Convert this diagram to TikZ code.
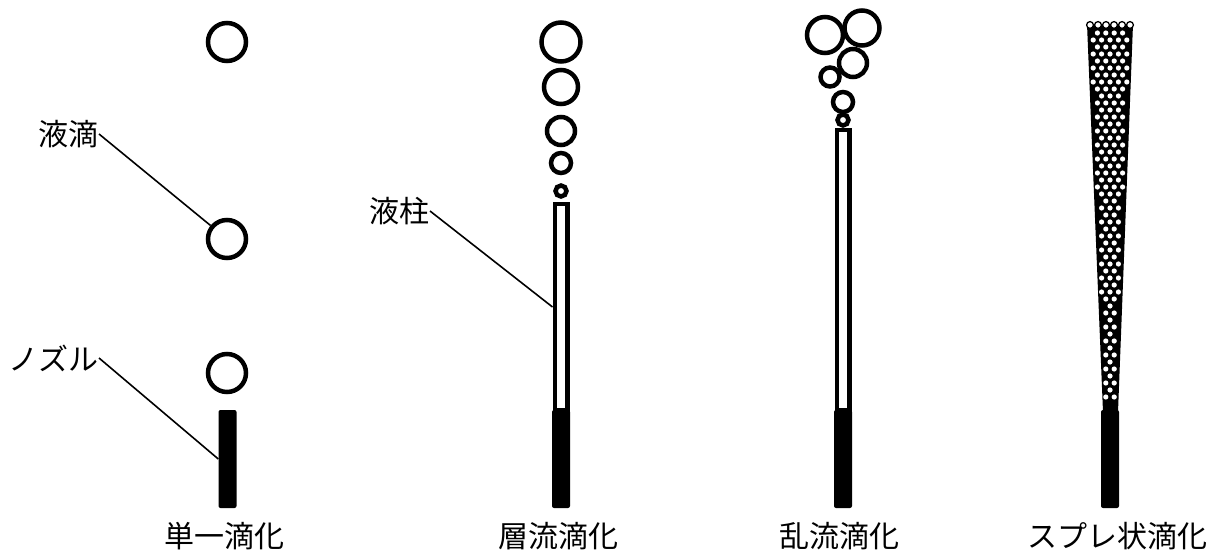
\documentclass[tikz,border=0pt]{standalone}
\usepackage{fontspec}
\usepackage{tikz}
\newfontfamily\jpfont{Noto Sans CJK JP}

\begin{document}
\begin{tikzpicture}[
        x=1pt, y=-1pt,
        drop/.style={circle, draw=black, line width=4.5pt, inner sep=0pt},
        jet/.style={draw=black, line width=4.5pt, minimum width=12.5pt, inner sep=0pt},
        nozzle/.style={fill=black, rounded corners=2pt, minimum width=18pt,
            minimum height=98pt, inner sep=0pt},
        tag/.style={font=\jpfont\fontsize{30}{30}\selectfont, inner sep=0pt},
        leader/.style={line width=1.6pt, draw=black}
    ]
        \useasboundingbox (0,0) rectangle (1210,551);

        % single drop
        \node[drop, minimum size=38pt] (dropA1) at (227,42) {};
        \node[drop, minimum size=38pt] (dropA2) at (227,239) {};
        \node[drop, minimum size=38pt] (dropA3) at (227,373) {};
        \node[nozzle] (nozA) at (227.5,459) {};

        % laminar
        \node[drop, minimum size=39pt] (dropB1) at (561,42) {};
        \node[drop, minimum size=34pt] (dropB2) at (561,87) {};
        \node[drop, minimum size=28pt] (dropB3) at (561,131) {};
        \node[drop, minimum size=20pt] (dropB4) at (561,163) {};
        \node[drop, minimum size=11pt] (dropB5) at (561,191) {};
        \node[jet, minimum height=206pt] (colB) at (561,307) {};
        \node[nozzle] (nozB) at (561,459) {};

        % turbulent
        \node[drop, minimum size=36pt] (dropC1) at (825,35) {};
        \node[drop, minimum size=35pt] (dropC2) at (862,28) {};
        \node[drop, minimum size=28pt] (dropC3) at (853,63) {};
        \node[drop, minimum size=19pt] (dropC4) at (830,77) {};
        \node[drop, minimum size=20pt] (dropC5) at (843,102) {};
        \node[drop, minimum size=11pt] (dropC6) at (843,120) {};
        \node[jet, minimum height=280pt] (colC) at (843,270) {};
        \node[nozzle] (nozC) at (843,459) {};

        % spray
        \fill[black, rounded corners=1pt] (1087,24) -- (1133,24) -- (1118,412) -- (1103,412) -- cycle;
        \foreach \r in {1,...,53} {
            \pgfmathsetmacro\yy{26+7*\r}
            \pgfmathsetmacro\hw{23-15.5*(\yy-24)/386}
            \foreach \k in {-4,...,3} {
                \pgfmathsetmacro\dx{8.4*\k+4.2*mod(\r,2)}
                \pgfmathtruncatemacro\ok{abs(\dx)<=\hw-3.6 ? 1 : 0}
                \ifnum\ok=1 \fill[white] (1110+\dx,\yy) circle[radius=2.6pt]; \fi
            }
        }
        \foreach \k in {0,...,5}
            \filldraw[fill=white, draw=black, line width=1.3pt] (1090+8*\k,25) circle[radius=3.4pt];
        \node[nozzle] (nozD) at (1110,459) {};

        % labels
        \node[tag, anchor=east] (dropLbl) at (99,134) {液滴};
        \node[tag, anchor=east] (nozLbl) at (99,358) {ノズル};
        \node[tag, anchor=east] (colLbl) at (430,211) {液柱};
        \draw[leader] (dropLbl.east) -- (dropA2);
        \draw[leader] (nozLbl.east) -- (nozA.west);
        \draw[leader] (colLbl.east) -- (colB.west);

        \node[tag] (capA) at (224,536) {単一滴化};
        \node[tag] (capB) at (558,536) {層流滴化};
        \node[tag] (capC) at (839,536) {乱流滴化};
        \node[tag] (capD) at (1117,536) {スプレ状滴化};
    \end{tikzpicture}
\end{document}
